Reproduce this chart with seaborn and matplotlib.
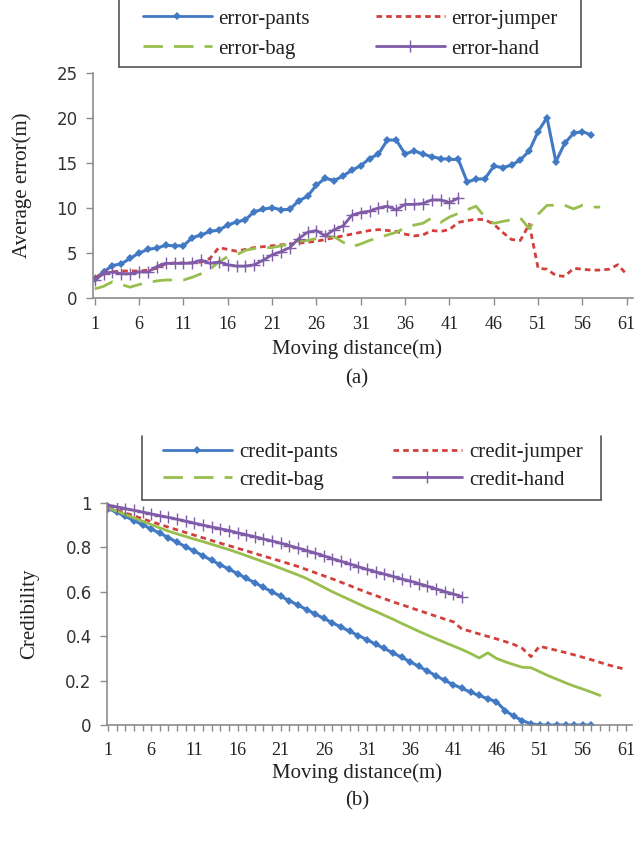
import matplotlib
matplotlib.use("Agg")
import matplotlib.pyplot as plt
import seaborn as sns
import pandas as pd
from matplotlib.lines import Line2D
from matplotlib.ticker import MultipleLocator

sns.set_theme(style="white")
plt.rcParams['font.family'] = ['Liberation Serif', 'DejaVu Serif']

# ---- (a) average positioning error per moving distance ----
error_pants = [2.1, 2.9, 3.6, 3.8, 4.4, 5.0, 5.4, 5.55, 5.85, 5.8,
               5.8, 6.7, 7.0, 7.4, 7.55, 8.1, 8.45, 8.7, 9.6, 9.85,
               10.05, 9.8, 9.85, 10.8, 11.3, 12.55, 13.3, 13.05, 13.55, 14.2,
               14.7, 15.5, 16.0, 17.55, 17.55, 16.0, 16.35, 16.0, 15.7, 15.5,
               15.4, 15.4, 12.9, 13.2, 13.25, 14.65, 14.5, 14.75, 15.35, 16.35,
               18.5, 20.05, 15.15, 17.2, 18.3, 18.5, 18.1]
error_jumper = [2.2, 2.8, 2.9, 3.0, 3.0, 3.0, 3.1, 3.3, 3.8, 3.9,
                3.9, 3.9, 4.0, 4.4, 5.6, 5.4, 5.2, 5.4, 5.6, 5.7,
                5.8, 5.9, 6.0, 6.1, 6.2, 6.3, 6.5, 6.7, 6.9, 7.1,
                7.3, 7.5, 7.6, 7.5, 7.4, 7.1, 6.9, 7.0, 7.5, 7.4,
                7.6, 8.4, 8.6, 8.75, 8.7, 8.2, 7.3, 6.5, 6.4, 8.2,
                3.3, 3.2, 2.5, 2.4, 3.3, 3.2, 3.1, 3.1, 3.2, 3.7, 2.6]
error_bag = [1.0, 1.3, 1.8, 1.5, 1.2, 1.5, 1.7, 1.9, 2.0, 2.0,
             2.0, 2.3, 2.7, 3.2, 4.0, 4.6, 4.8, 5.3, 5.5, 5.6,
             5.6, 5.8, 6.0, 6.3, 6.4, 6.6, 6.8, 6.8, 6.2, 5.7,
             6.0, 6.4, 6.7, 7.0, 7.3, 7.8, 8.1, 8.3, 8.9, 8.4,
             9.0, 9.4, 9.8, 10.2, 9.0, 8.3, 8.5, 8.7, 8.9, 7.7,
             9.3, 10.3, 10.3, 10.3, 9.9, 10.3, 10.1, 10.1]
error_hand = [2.0, 2.7, 2.9, 2.7, 2.7, 2.9, 2.9, 3.5, 3.85, 3.85,
              3.85, 3.9, 4.2, 3.85, 4.0, 3.7, 3.55, 3.55, 3.7, 4.2,
              4.8, 5.15, 5.6, 6.6, 7.3, 7.5, 6.9, 7.6, 8.0, 9.2,
              9.5, 9.65, 10.0, 10.2, 9.8, 10.4, 10.4, 10.5, 10.9, 10.9,
              10.6, 11.1]

# ---- (b) credibility per moving distance ----
credit_pants = [0.975, 0.958, 0.940, 0.921, 0.902, 0.883, 0.864, 0.844, 0.823, 0.803,
                0.783, 0.762, 0.742, 0.722, 0.702, 0.682, 0.661, 0.641, 0.620, 0.600,
                0.580, 0.560, 0.540, 0.520, 0.500, 0.480, 0.460, 0.441, 0.422, 0.403,
                0.384, 0.364, 0.345, 0.325, 0.305, 0.285, 0.264, 0.243, 0.222, 0.201,
                0.182, 0.165, 0.148, 0.133, 0.118, 0.105, 0.065, 0.040, 0.020, 0.005,
                0.0, 0.0, 0.0, 0.0, 0.0, 0.0, 0.0]
credit_jumper = [0.980, 0.968, 0.955, 0.942, 0.929, 0.916, 0.904, 0.891, 0.879, 0.867,
                 0.855, 0.843, 0.831, 0.819, 0.808, 0.796, 0.785, 0.773, 0.761, 0.750,
                 0.738, 0.726, 0.714, 0.700, 0.686, 0.672, 0.658, 0.643, 0.628, 0.612,
                 0.597, 0.583, 0.569, 0.555, 0.542, 0.529, 0.516, 0.503, 0.490, 0.477,
                 0.465, 0.432, 0.422, 0.410, 0.399, 0.388, 0.376, 0.363, 0.345, 0.308,
                 0.355, 0.345, 0.336, 0.326, 0.316, 0.305, 0.294, 0.282, 0.270, 0.260, 0.250]
credit_bag = [0.978, 0.963, 0.948, 0.933, 0.918, 0.903, 0.888, 0.873, 0.861, 0.849,
              0.837, 0.826, 0.814, 0.802, 0.790, 0.777, 0.763, 0.749, 0.735, 0.721,
              0.706, 0.691, 0.676, 0.660, 0.640, 0.620, 0.600, 0.582, 0.564, 0.546,
              0.528, 0.512, 0.494, 0.477, 0.458, 0.440, 0.422, 0.405, 0.388, 0.372,
              0.356, 0.340, 0.322, 0.302, 0.325, 0.300, 0.285, 0.272, 0.260, 0.258,
              0.240, 0.222, 0.206, 0.190, 0.175, 0.162, 0.148, 0.133]
credit_hand = [0.990, 0.983, 0.975, 0.967, 0.959, 0.951, 0.943, 0.935, 0.927, 0.918,
               0.909, 0.900, 0.892, 0.884, 0.876, 0.866, 0.857, 0.848, 0.838, 0.829,
               0.819, 0.808, 0.797, 0.786, 0.774, 0.762, 0.749, 0.737, 0.725, 0.713,
               0.701, 0.690, 0.680, 0.669, 0.658, 0.648, 0.637, 0.625, 0.613, 0.601,
               0.590, 0.578]

x_ticks = list(range(1, 62, 5))
error_ticks = [0, 5, 10, 15, 20, 25]
credit_ticks = [0, 0.2, 0.4, 0.6, 0.8, 1.0]
credit_tick_labels = ["0", "0.2", "0.4", "0.6", "0.8", "1"]

BLUE = "#4279C4"
RED = "#D23F3C"
GREEN = "#98BE4E"
PURPLE = "#7F5BA8"
AXIS_GREY = "#8C8C8C"
TEXT = "#222222"

SHORT_DASH = (0, (2.0, 1.5))
LONG_DASH = (0, (7.0, 4.0))


def frame(series):
    return pd.DataFrame({"x": range(1, len(series) + 1), "y": series})


W, H = 640, 848
fig = plt.figure(figsize=(W / 100, H / 100), dpi=100)


def fig_box(left, top, right, bottom):
    return [left / W, 1 - bottom / H, (right - left) / W, (bottom - top) / H]


def style_axes(ax):
    for side in ("top", "right"):
        ax.spines[side].set_visible(False)
    for side in ("left", "bottom"):
        ax.spines[side].set_color(AXIS_GREY)
        ax.spines[side].set_linewidth(1.2)
    ax.tick_params(axis="both", which="both", direction="out", color=AXIS_GREY,
                   width=1.0, length=5, bottom=True, left=True)
    ax.tick_params(axis="x", labelsize=13, pad=8, labelcolor=TEXT)
    ax.tick_params(axis="y", labelsize=12, pad=6, labelcolor="#333333")
    ax.grid(False)


def legend_frame(left, top, right, bottom):
    kw = dict(color="#555555", lw=1.2, transform=fig.transFigure)
    fig.add_artist(Line2D([left / W, left / W], [1 - top / H, 1 - bottom / H], **kw))
    fig.add_artist(Line2D([left / W, right / W], [1 - bottom / H, 1 - bottom / H], **kw))
    fig.add_artist(Line2D([right / W, right / W], [1 - top / H, 1 - bottom / H], **kw))


PANTS_KW = dict(color=BLUE, lw=2.2, marker="D", markersize=4.5, markeredgewidth=0)
HAND_KW = dict(color=PURPLE, lw=2.0, marker="+", markersize=9,
               markeredgewidth=1.0, markeredgecolor=PURPLE)

# ---------------- chart (a) ----------------
ax1 = fig.add_axes(fig_box(93, 73, 633, 298))
sns.lineplot(data=frame(error_pants), x="x", y="y", ax=ax1, **PANTS_KW)
sns.lineplot(data=frame(error_jumper), x="x", y="y", ax=ax1, color=RED, lw=2.0,
             linestyle=SHORT_DASH)
sns.lineplot(data=frame(error_bag), x="x", y="y", ax=ax1, color=GREEN, lw=2.0,
             linestyle=LONG_DASH)
sns.lineplot(data=frame(error_hand), x="x", y="y", ax=ax1, **HAND_KW)
ax1.set_xlim(0.81, 61.7)
ax1.set_ylim(0, 25)
ax1.set_xticks(x_ticks)
ax1.set_xticklabels([str(t) for t in x_ticks])
ax1.set_yticks(error_ticks)
ax1.set_yticklabels([str(t) for t in error_ticks])
style_axes(ax1)
ax1.set_xlabel("")
ax1.set_ylabel("Average error(m)", fontsize=15, color=TEXT)
ax1.yaxis.set_label_coords(-0.113, 0.5)

# ---------------- chart (b) ----------------
ax2 = fig.add_axes(fig_box(107, 503, 632, 725))
sns.lineplot(data=frame(credit_pants), x="x", y="y", ax=ax2, **PANTS_KW)
sns.lineplot(data=frame(credit_jumper), x="x", y="y", ax=ax2, color=RED, lw=2.0,
             linestyle=SHORT_DASH)
sns.lineplot(data=frame(credit_bag), x="x", y="y", ax=ax2, color=GREEN, lw=2.0)
sns.lineplot(data=frame(credit_hand), x="x", y="y", ax=ax2, **HAND_KW)
ax2.set_xlim(0.88, 61.7)
ax2.set_ylim(0, 1)
ax2.set_xticks(x_ticks)
ax2.set_xticklabels([str(t) for t in x_ticks])
ax2.xaxis.set_minor_locator(MultipleLocator(1))
ax2.set_yticks(credit_ticks)
ax2.set_yticklabels(credit_tick_labels)
style_axes(ax2)
ax2.tick_params(axis="x", which="both", length=4)
ax2.set_xlabel("")
ax2.set_ylabel("Credibility", fontsize=15, color=TEXT)
ax2.yaxis.set_label_coords(-0.13, 0.5)

for ax in (ax1, ax2):
    for lab in ax.get_yticklabels():
        lab.set_fontfamily(["DejaVu Sans"])

# axis titles and panel captions
for y, s in ((349, "Moving distance(m)"), (379, "(a)"),
             (773, "Moving distance(m)"), (801, "(b)")):
    fig.text(357 / W, 1 - y / H, s, ha="center", va="center",
             fontsize=15, color=TEXT)


# legends
def handle(color, ls="-", marker=None, ms=0):
    return Line2D([], [], color=color, lw=2.0, linestyle=ls, marker=marker,
                  markersize=ms, markeredgewidth=1.0 if marker == "+" else 0,
                  markeredgecolor=color)


def make_handles():
    return [handle(BLUE, marker="D", ms=4.5), handle(GREEN, LONG_DASH),
            handle(RED, SHORT_DASH), handle(PURPLE, marker="+", ms=9)]


top_labels = ["error-pants", "error-bag", "error-jumper", "error-hand"]
fig.legend(make_handles(), top_labels, ncol=2, loc="center left",
           bbox_to_anchor=(124 / W, 1 - 34 / H), frameon=False, fontsize=15,
           handlelength=3.3, handletextpad=0.3, columnspacing=3.2,
           labelspacing=0.5, labelcolor=TEXT)
legend_frame(119, -5, 581, 67)

bot_labels = ["credit-pants", "credit-bag", "credit-jumper", "credit-hand"]
fig.legend(make_handles(), bot_labels, ncol=2, loc="center left",
           bbox_to_anchor=(144 / W, 1 - 466 / H), frameon=False, fontsize=15,
           handlelength=3.3, handletextpad=0.35, columnspacing=2.65,
           labelspacing=0.4, labelcolor=TEXT)
legend_frame(142, 436, 601, 500)

fig.savefig("out.png", dpi=100, facecolor="white")
